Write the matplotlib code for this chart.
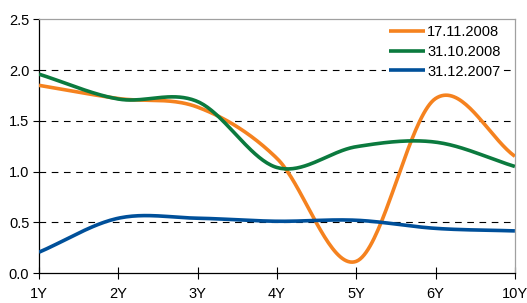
import matplotlib
matplotlib.use("Agg")
import matplotlib.pyplot as plt
import numpy as np

plt.rcParams['font.family'] = ['Liberation Sans', 'DejaVu Sans']

tenors = ['1Y', '2Y', '3Y', '4Y', '5Y', '6Y', '10Y']
s_17_11_2008 = [1.85, 1.72, 1.635, 1.13, 0.115, 1.72, 1.15]
s_31_10_2008 = [1.96, 1.715, 1.69, 1.04, 1.245, 1.29, 1.05]
s_31_12_2007 = [0.205, 0.54, 0.54, 0.51, 0.52, 0.44, 0.415]

series = [
    ('17.11.2008', s_17_11_2008, '#F5821F'),
    ('31.10.2008', s_31_10_2008, '#0B7A3E'),
    ('31.12.2007', s_31_12_2007, '#00509A'),
]


def smooth(y, n=40):
    # excel-style smoothed line (catmull-rom through the points)
    y = np.asarray(y, float)
    x = np.arange(len(y), dtype=float)
    yp = np.concatenate([[2 * y[0] - y[1]], y, [2 * y[-1] - y[-2]]])
    xs, ys = [], []
    for i in range(len(y) - 1):
        p0, p1, p2, p3 = yp[i], yp[i + 1], yp[i + 2], yp[i + 3]
        m1 = (p2 - p0) / 2
        m2 = (p3 - p1) / 2
        t = np.linspace(0, 1, n, endpoint=(i == len(y) - 2))
        h00 = 2 * t**3 - 3 * t**2 + 1
        h10 = t**3 - 2 * t**2 + t
        h01 = -2 * t**3 + 3 * t**2
        h11 = t**3 - t**2
        xs.append(x[i] + t)
        ys.append(h00 * p1 + h10 * m1 + h01 * p2 + h11 * m2)
    return np.concatenate(xs), np.concatenate(ys)


fig = plt.figure(figsize=(5.27, 3.03), dpi=100)
ax = fig.add_axes([0.074, 0.099, 0.903, 0.837])

for yv in [0.5, 1.0, 1.5, 2.0]:
    ax.axhline(yv, color='black', lw=0.8, dashes=(6, 5), zorder=1)

for label, vals, col in series:
    xs, ys = smooth(vals)
    ax.plot(xs, ys, color=col, lw=2.6, label=label, zorder=3,
            solid_capstyle='butt')

ax.set_xlim(0, len(tenors) - 1)
ax.set_ylim(0, 2.5)
ax.set_xticks(range(len(tenors)))
ax.set_xticklabels(tenors)
ax.set_yticks(np.arange(0, 2.51, 0.5))
ax.set_yticklabels(['%.1f' % v for v in np.arange(0, 2.51, 0.5)])

ax.tick_params(axis='x', direction='inout', length=8, width=0.8,
               labelsize=10.5, pad=6)
ax.tick_params(axis='y', direction='out', length=4, width=0.8,
               labelsize=10.5, pad=3)

for s in ['left', 'bottom']:
    ax.spines[s].set_color('black')
    ax.spines[s].set_linewidth(0.9)
for s in ['top', 'right']:
    ax.spines[s].set_color('#A0A0A0')
    ax.spines[s].set_linewidth(0.9)

leg = ax.legend(loc='upper right', bbox_to_anchor=(0.976, 0.99),
                frameon=True, fontsize=10.5,
                handlelength=2.5, handletextpad=0.15, labelspacing=0.4,
                borderaxespad=0.0, borderpad=0.2, fancybox=False)
leg.get_frame().set_edgecolor('none')
leg.get_frame().set_facecolor('white')
leg.get_frame().set_alpha(1)
leg.set_zorder(5)

fig.savefig('out.png', dpi=100)
